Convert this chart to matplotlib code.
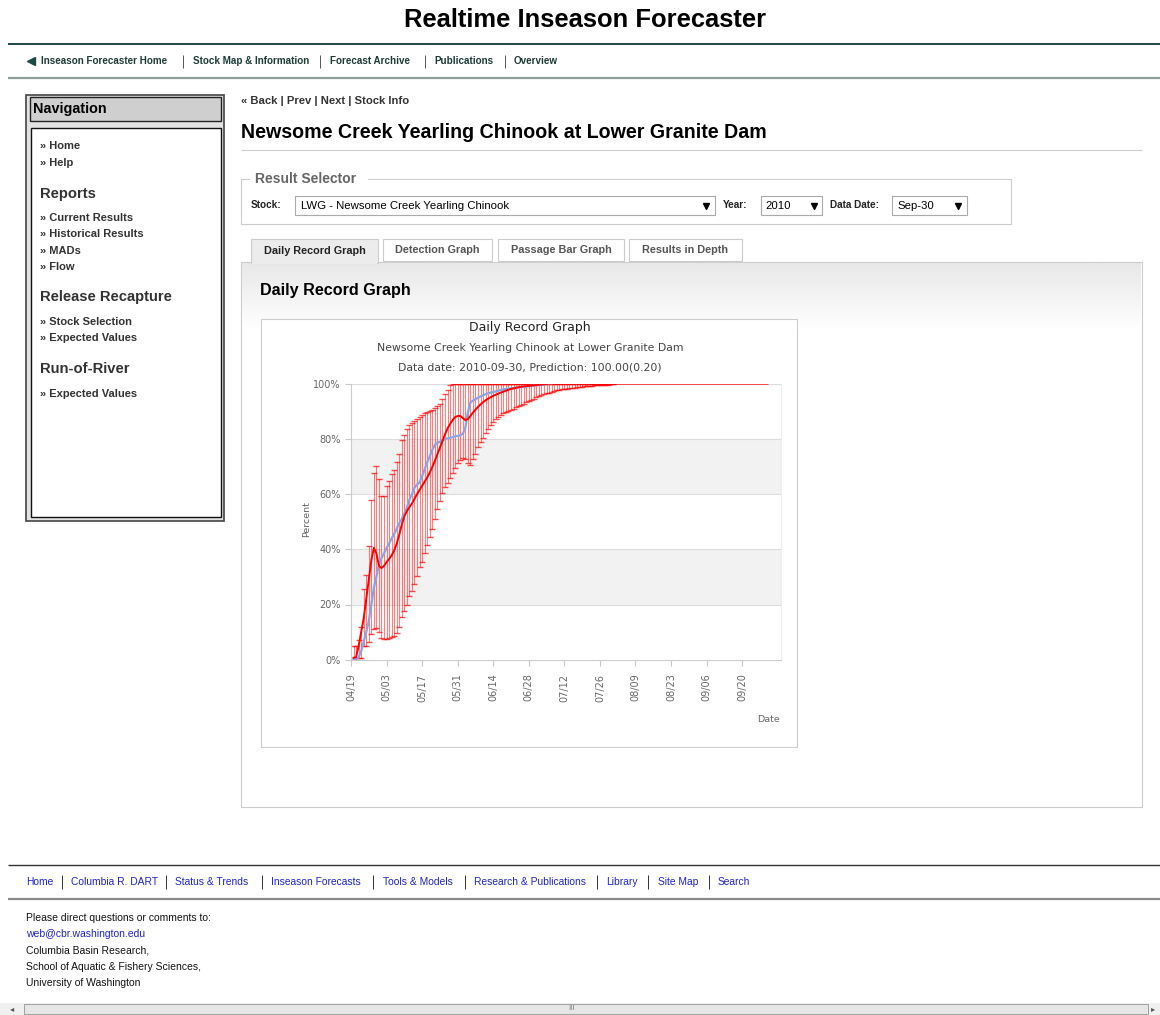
import matplotlib
matplotlib.use("Agg")
import matplotlib.pyplot as plt
from matplotlib.patches import Rectangle
from matplotlib.colors import LinearSegmentedColormap
import matplotlib.dates as mdates
import numpy as np
import pandas as pd

# daily records, first day is 2010-04-20
first_day = "2010-04-20"

upper = [4.8, 4.8, 7.3, 11.8, 25.5, 30.6, 41.2, 58.0, 67.5, 70.3,
         65.3, 59.4, 59.4, 62.8, 64.7, 67.3, 68.8, 71.6, 74.5, 79.5,
         81.5, 83.7, 84.9, 85.8, 86.4, 87.1, 88.0, 88.6, 89.4, 89.9,
         90.1, 90.4, 91.2, 92.1, 92.8, 94.5, 96.4, 97.8, 99.4, 100.0,
         100.0, 100.0, 100.0, 100.0, 100.0, 100.0, 100.0, 100.0, 100.0, 100.0,
         100.0, 100.0, 100.0, 100.0, 100.0, 100.0, 100.0, 100.0, 100.0, 100.0,
         100.0, 100.0, 100.0, 100.0, 100.0, 100.0, 100.0, 100.0, 100.0, 100.0,
         100.0, 100.0, 100.0, 100.0, 100.0, 100.0, 100.0, 100.0, 100.0, 100.0,
         100.0, 100.0, 100.0, 100.0, 100.0, 100.0, 100.0, 100.0, 100.0, 100.0,
         100.0, 100.0, 100.0, 100.0, 100.0, 100.0, 100.0, 100.0, 100.0, 100.0,
         100.0, 100.0, 100.0]

lower = [0.0, 0.0, 0.5, 0.5, 4.8, 4.8, 6.5, 9.3, 11.0, 11.5,
         10.0, 7.8, 7.6, 7.6, 7.8, 8.2, 8.6, 9.6, 12.0, 15.5,
         17.5, 20.0, 23.0, 25.0, 27.5, 30.5, 33.5, 35.5, 38.5, 41.5,
         44.5, 47.5, 51.0, 54.5, 57.5, 60.5, 62.5, 64.0, 66.0, 67.5,
         69.5, 71.2, 72.5, 73.0, 72.8, 71.2, 70.6, 72.8, 74.7, 77.0,
         78.9, 80.4, 82.2, 83.7, 84.9, 86.1, 87.1, 88.0, 88.6, 89.4,
         89.8, 90.2, 90.6, 91.0, 91.5, 92.0, 92.4, 92.8, 93.2, 93.6,
         94.1, 94.5, 95.0, 95.4, 95.8, 96.1, 96.5, 96.8, 97.1, 97.4,
         97.6, 97.8, 97.9, 98.0, 98.2, 98.3, 98.5, 98.6, 98.7, 98.8,
         98.9, 99.0, 99.1, 99.2, 99.3, 99.4, 99.4, 99.5, 99.5, 99.6,
         99.7, 99.8, 100.0]

red_line = [0.7, 0.9, 5.0, 10.0, 15.0, 22.0, 29.0, 36.0, 40.5, 38.5,
            34.0, 33.2, 34.0, 35.3, 36.5, 37.8, 39.6, 42.0, 45.3, 49.0,
            52.0, 53.8, 55.3, 56.6, 58.3, 60.0, 61.5, 63.0, 64.5, 66.0,
            67.8, 69.8, 72.0, 74.4, 76.8, 79.2, 81.6, 83.8, 85.4, 86.8,
            87.9, 88.3, 88.3, 87.6, 86.8, 87.2, 88.3, 89.5, 90.6, 91.6,
            92.5, 93.3, 94.0, 94.6, 95.1, 95.6, 96.0, 96.4, 96.8, 97.1,
            97.5, 97.8, 98.1, 98.3, 98.5, 98.7, 98.9, 99.0, 99.1, 99.2,
            99.3, 99.4, 99.5, 99.6, 99.7, 99.8, 99.9, 100.0, 100.0, 100.0,
            100.0, 100.0, 100.0, 100.0, 100.0, 100.0, 100.0, 100.0, 100.0, 100.0,
            100.0, 100.0, 100.0, 100.0, 100.0, 100.0, 100.0, 100.0, 100.0, 100.0,
            100.0, 100.0, 100.0]
# red line carries on flat to the data date
tail_dates = ["2010-09-30"]
tail_values = [100.0]

blue_line = [0.3, 0.3, 0.8, 3.0, 6.5, 10.0, 14.0, 20.0, 26.0, 30.0,
             34.5, 36.8, 38.5, 40.5, 42.0, 44.0, 45.5, 47.5, 49.5, 51.0,
             53.0, 55.0, 58.0, 60.0, 62.3, 63.5, 64.3, 66.5, 69.0, 71.5,
             73.7, 76.0, 77.8, 78.6, 79.0, 79.4, 79.9, 80.2, 80.4, 80.6,
             80.9, 81.1, 81.3, 81.8, 84.0, 89.5, 93.2, 93.9, 94.4, 94.9,
             95.4, 95.8, 96.2, 96.5, 96.8, 97.0, 97.2, 97.5, 97.7, 97.9,
             98.1, 98.2, 98.3, 98.4, 98.6, 98.7, 98.8, 98.9, 99.0, 99.1,
             99.2, 99.3, 99.4, 99.5, 99.6, 99.7, 99.8, 99.9, 100.0]

tick_dates = ["2010-04-19", "2010-05-03", "2010-05-17", "2010-05-31",
              "2010-06-14", "2010-06-28", "2010-07-12", "2010-07-26",
              "2010-08-09", "2010-08-23", "2010-09-06", "2010-09-20"]
y_ticks = [0, 20, 40, 60, 80, 100]

top_links = ["Inseason Forecaster Home", "Stock Map & Information",
             "Forecast Archive", "Publications", "Overview"]
foot_links = ["Home", "Columbia R. DART", "Status & Trends", "Inseason Forecasts",
              "Tools & Models", "Research & Publications", "Library", "Site Map", "Search"]
contact = ["Please direct questions or comments to:", "web@cbr.washington.edu",
           "Columbia Basin Research,", "School of Aquatic & Fishery Sciences,",
           "University of Washington"]
tabs = ["Daily Record Graph", "Detection Graph", "Passage Bar Graph", "Results in Depth"]

W, H = 1160, 1015
fig = plt.figure(figsize=(W / 100, H / 100), dpi=100)
fig.patch.set_facecolor("white")

# page layer in pixel coordinates
pg = fig.add_axes([0, 0, 1, 1])
pg.axis("off")

PAGE = "Liberation Sans"


def box(x0, y0, x1, y1, fc="white", ec="#cccccc", lw=0.8, z=1):
    pg.add_patch(Rectangle((x0, y0), x1 - x0, y1 - y0, facecolor=fc,
                           edgecolor=ec, linewidth=lw, zorder=z))


def txt(x, y, s, size=8, color="#333333", weight="normal", ha="left", family=PAGE, z=5):
    pg.text(x, y, s, fontsize=size, color=color, fontweight=weight, ha=ha,
            va="center", family=family, zorder=z)


# header
txt(585, 20, "Realtime Inseason Forecaster", size=18.4, color="black", weight="bold", ha="center")
pg.hlines(44, 8, W, color="#1d4a44", lw=1.4)
pg.plot([31], [61], marker="<", ms=6, color="#1d4a44", zorder=5)
link_x = [41, 193, 330, 434, 514]
for x, s in zip(link_x, top_links):
    txt(x, 61, s, size=7.15, color="#1d3a36", weight="bold")
for x in [183, 320, 425, 505]:
    pg.vlines(x, 55, 68, color="#555555", lw=0.7)
pg.hlines(78, 8, W, color="#8aa099", lw=1.6)

# navigation box
box(26, 95, 224, 521, fc="#e2e2e2", ec="#444444", lw=1.2)
box(30, 97, 221, 121, fc="#cfcfcf", ec="#222222", lw=1.0, z=2)
txt(33, 109, "Navigation", size=10.4, color="black", weight="bold")
box(31, 128, 221, 517, fc="white", ec="#111111", lw=1.0, z=2)
nav = [(146, "\u00bb Home", 0), (163, "\u00bb Help", 0), (194, "Reports", 1),
       (218, "\u00bb Current Results", 0), (234, "\u00bb Historical Results", 0),
       (251, "\u00bb MADs", 0), (267, "\u00bb Flow", 0), (297, "Release Recapture", 1),
       (322, "\u00bb Stock Selection", 0), (338, "\u00bb Expected Values", 0),
       (369, "Run-of-River", 1), (394, "\u00bb Expected Values", 0)]
for y, s, head in nav:
    if head:
        txt(40, y, s, size=10.6, color="#333333", weight="bold")
    else:
        txt(40, y, s, size=8.0, color="#333333", weight="bold")

# main heading
txt(241, 101, "\u00ab Back | Prev | Next | Stock Info", size=8.1, color="#333333", weight="bold")
txt(241, 132, "Newsome Creek Yearling Chinook at Lower Granite Dam", size=14.1, color="black", weight="bold")
pg.hlines(150, 241, 1142, color="#cccccc", lw=0.8)

# result selector
box(241, 179, 1011, 224, fc="white", ec="#cccccc", z=1)
pg.add_patch(Rectangle((250, 172), 118, 14, facecolor="white", edgecolor="none", zorder=2))
txt(255, 179, "Result Selector", size=10, color="#666666", weight="bold")
txt(251, 205, "Stock:", size=7.2, color="#222222", weight="bold")
box(295, 196, 715, 215, fc="white", ec="#aaaaaa", z=2)
txt(301, 206, "LWG - Newsome Creek Yearling Chinook", size=8.2, color="black")
txt(723, 205, "Year:", size=7.2, color="#222222", weight="bold")
box(761, 196, 822, 215, fc="white", ec="#aaaaaa", z=2)
txt(765, 206, "2010", size=8.2, color="black")
txt(830, 205, "Data Date:", size=7.2, color="#222222", weight="bold")
box(892, 196, 967, 215, fc="white", ec="#aaaaaa", z=2)
txt(897, 206, "Sep-30", size=8.2, color="black")
pg.plot([706, 814, 958], [206, 206, 206], linestyle="none", marker="v", ms=4, color="black", zorder=5)

# content panel with grey fade at the top
box(241, 262, 1142, 807, fc="white", ec="#cccccc", z=1)
fade = LinearSegmentedColormap.from_list("fade", ["#e8e8e8", "#ffffff"])
pg.imshow(np.linspace(0, 1, 60).reshape(-1, 1), cmap=fade, extent=(242, 1141, 330, 263),
          aspect="auto", zorder=1.5, interpolation="bilinear")
tab_edges = [(251, 378), (383, 492), (498, 624), (629, 742)]
for i, ((x0, x1), s) in enumerate(zip(tab_edges, tabs)):
    if i == 0:
        box(x0, 239, x1, 263, fc="#ececec", ec="#cccccc", z=2)
        pg.hlines(262.5, x0 + 1, x1 - 1, color="#ececec", lw=1.5, zorder=3)
        txt((x0 + x1) / 2, 251, s, size=7.8, color="#222222", weight="bold", ha="center")
    else:
        box(x0, 239, x1, 261, fc="white", ec="#cccccc", z=2)
        txt((x0 + x1) / 2, 250, s, size=7.8, color="#555555", weight="bold", ha="center")
txt(260, 290, "Daily Record Graph", size=11.6, color="black", weight="bold")

# chart frame and titles
box(261, 319, 797, 747, fc="white", ec="#cccccc", z=2)
CH = "DejaVu Sans"
txt(530, 328, "Daily Record Graph", size=9, color="#222222", ha="center", family=CH)
txt(530, 348, "Newsome Creek Yearling Chinook at Lower Granite Dam", size=7.8, color="#444444", ha="center", family=CH)
txt(530, 368, "Data date: 2010-09-30, Prediction: 100.00(0.20)", size=7.8, color="#444444", ha="center", family=CH)
pg.text(307, 519, "Percent", fontsize=6.8, color="#666666", rotation=90, ha="center", va="center", family=CH, zorder=5)
txt(768, 719, "Date", size=6.8, color="#666666", ha="center", family=CH)

# footer
pg.hlines(865, 8, W, color="#333333", lw=1.0)
foot_x = [26, 71, 175, 271, 383, 474, 606, 658, 718]
for x, s in zip(foot_x, foot_links):
    txt(x, 882, s, size=7.4, color="#2222cc")
for x in [62, 166, 262, 373, 465, 597, 648, 709]:
    pg.vlines(x, 875, 889, color="#333333", lw=0.7)
pg.hlines(899, 8, W, color="#8a8a8a", lw=1.6)
for i, s in enumerate(contact):
    txt(26, 918 + i * 16.3, s, size=7.5, color="#2222cc" if i == 1 else "#111111")

# scrollbar
box(0, 1003, W, 1015, fc="#f0f0f0", ec="none", z=1)
box(24, 1004, 1148, 1014, fc="#e6e6e6", ec="#a0a0a0", lw=0.7, z=2)
txt(12, 1009, "\u25c2", size=6, color="#555555", ha="center", family="DejaVu Sans")
txt(1153, 1009, "\u25b8", size=6, color="#555555", ha="center", family="DejaVu Sans")
txt(571, 1009, "III", size=5.5, color="#777777", ha="center")

pg.set_xlim(0, W)
pg.set_ylim(H, 0)

# the chart itself
ax = fig.add_axes([351 / W, 1 - 659.7 / H, (781 - 351) / W, (659.7 - 383.7) / H])
ax.set_zorder(3)
ax.patch.set_alpha(0)

bar_days = pd.date_range(first_day, periods=len(upper))
line_days = pd.date_range(first_day, periods=len(red_line))
blue_days = pd.date_range(first_day, periods=len(blue_line))

for a, b in [(20, 40), (60, 80)]:
    ax.axhspan(a, b, color="#f2f2f2", zorder=0, lw=0)
for v in y_ticks[1:]:
    ax.axhline(v, color="#dddddd", lw=0.8, zorder=0.5)

ax.vlines(bar_days, lower, upper, color="#ff0000", lw=0.8, alpha=0.5, zorder=2)
ax.plot(bar_days, upper, linestyle="none", marker="_", ms=5, mew=1.0, color="#ff0000", alpha=0.7, zorder=2)
ax.plot(bar_days, lower, linestyle="none", marker="_", ms=5, mew=1.0, color="#ff0000", alpha=0.7, zorder=2)
ax.plot(blue_days, blue_line, color="#8aa4e2", lw=1.6, zorder=3)
ax.plot(list(line_days) + list(pd.to_datetime(tail_dates)), red_line + tail_values,
        color="#ff0000", lw=1.4, zorder=4)

ax.set_ylim(0, 100)
ax.set_xlim(pd.Timestamp("2010-04-19"), pd.Timestamp("2010-10-05 07:00"))
ax.set_yticks(y_ticks)
ax.set_yticklabels([f"{v}%" for v in y_ticks])
ax.set_xticks(pd.to_datetime(tick_dates))
ax.xaxis.set_major_formatter(mdates.DateFormatter("%m/%d"))
ax.tick_params(axis="both", colors="#c8c8c8", labelcolor="#666666", labelsize=7.0, length=4, width=0.8)
ax.tick_params(axis="x", labelrotation=90, pad=6)
for s in ["left", "bottom"]:
    ax.spines[s].set_color("#cccccc")
ax.spines["right"].set_color("#eeeeee")
ax.spines["top"].set_visible(False)
for lab in ax.get_xticklabels() + ax.get_yticklabels():
    lab.set_family(CH)

fig.savefig("out.png", dpi=100)
